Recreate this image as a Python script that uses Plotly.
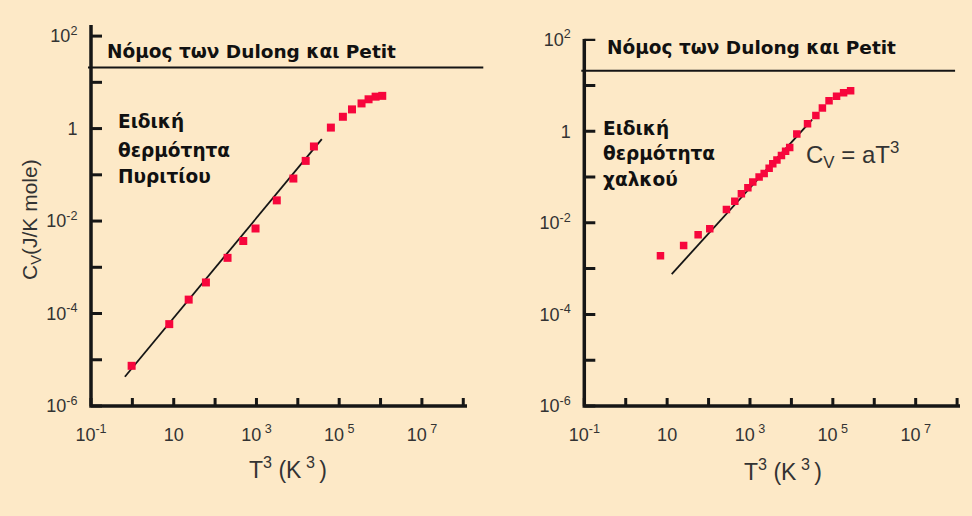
import plotly.graph_objects as go

# ---------------- data ----------------
# Left panel: silicon (Πυρίτιο)
si_T3 = [0.96, 7.8, 23, 60, 200, 480, 950, 3100, 7800, 15500, 24500,
         63000, 123000, 204000, 347000, 513000, 759000, 1100000]
si_Cv = [7.4e-6, 5.9e-5, 2.0e-4, 4.7e-4, 1.6e-3, 3.7e-3, 6.9e-3, 0.028, 0.083, 0.20, 0.41,
         1.05, 1.8, 2.6, 3.5, 4.3, 4.9, 5.1]
si_fit_T3 = [0.66, 38000]
si_fit_Cv = [4.3e-6, 0.59]

# Right panel: copper (χαλκός)
cu_T3 = [6.9, 25, 56, 107, 270, 430, 620, 890, 1170, 1660, 2200, 2900, 3550, 4470,
         5750, 7240, 9100, 13500, 24500, 39000, 56000, 81000, 123000, 182000, 269000]
cu_Cv = [1.9e-3, 3.2e-3, 5.5e-3, 7.4e-3, 0.0195, 0.0295, 0.043, 0.058, 0.078, 0.10, 0.12,
         0.155, 0.195, 0.235, 0.295, 0.363, 0.44, 0.87, 1.45, 2.2, 3.2, 4.6, 5.8, 6.9, 7.6]
cu_fit_T3 = [12.9, 31600]
cu_fit_Cv = [7.6e-4, 1.8]

dulong_petit = 21.0

x_tickvals = [1e-1, 1e0, 1e1, 1e2, 1e3, 1e4, 1e5, 1e6, 1e7, 1e8]
x_ticktext = ["10<sup>-1</sup>", "", "10", "", "10<sup> 3</sup>", "", "10<sup> 5</sup>", "",
              "10<sup> 7</sup>", ""]
y_tickvals = [1e-6, 1e-5, 1e-4, 1e-3, 1e-2, 1e-1, 1e0, 1e1, 1e2]
y_ticktext = ["10<sup>-6</sup>", "", "10<sup>-4</sup>", "", "10<sup>-2</sup>", "", "1", "",
              "10<sup>2</sup>"]

# ---------------- styling ----------------
W, H = 972, 516
BG = "#FDE9C7"
AX = "#161616"
RED = "#F7063C"
TICKFONT = dict(family="Liberation Sans, Arial, sans-serif", size=18, color="#333333")
BOLD = dict(family="DejaVu Sans, sans-serif", size=18.5, color="#111111", weight="bold")
REG = dict(family="Liberation Sans, Arial, sans-serif", size=20, color="#333333")

# panel geometry in pixels (axis corner at l/b, axis ends at r/t) and log ranges
PAD = 3  # px of room left of / below the axis lines inside the plotting area
PANELS = [
    dict(x="x", y="y", l=91, r=467, t=25, b=406, xr=[-1, 8.09], yr=[-6, 2.24], dp=1.043),
    dict(x="x2", y="y2", l=584.3, r=960, t=38.7, b=406, xr=[-1, 8.07], yr=[-6, 2.02], dp=0.987),
]
XTICK_LEN, YTICK_LEN = 8, 11


def px(x):
    return x / W


def py(y):
    return 1 - y / H


fig = go.Figure()

layout_axes = {}
for i, p in enumerate(PANELS):
    sfx = "" if i == 0 else str(i + 1)
    ppx = (p["r"] - p["l"]) / (p["xr"][1] - p["xr"][0])  # px per decade (x)
    ppy = (p["b"] - p["t"]) / (p["yr"][1] - p["yr"][0])  # px per decade (y)
    p["ppx"], p["ppy"] = ppx, ppy
    layout_axes["xaxis" + sfx] = dict(
        type="log", domain=[px(p["l"] - PAD), px(p["r"])],
        range=[p["xr"][0] - PAD / ppx, p["xr"][1]], anchor=p["y"],
        showline=False, ticks="outside", ticklen=9, tickcolor="rgba(0,0,0,0)",
        tickmode="array", tickvals=x_tickvals, ticktext=x_ticktext, tickfont=TICKFONT,
        showgrid=False, zeroline=False)
    layout_axes["yaxis" + sfx] = dict(
        type="log", domain=[py(p["b"] + PAD), py(p["t"])],
        range=[p["yr"][0] - PAD / ppy, p["yr"][1]], anchor=p["x"],
        showline=False, ticks="outside", ticklen=6, tickcolor="rgba(0,0,0,0)",
        tickmode="array", tickvals=y_tickvals, ticktext=y_ticktext, tickfont=TICKFONT,
        showgrid=False, zeroline=False)

# axis frame and inward ticks, placed at the axis tick values
for p in PANELS:
    x0, x1 = 10 ** p["xr"][0], 10 ** p["xr"][1]
    y0, y1 = 10 ** p["yr"][0], 10 ** p["yr"][1]
    fig.add_trace(go.Scatter(x=[x1, x0, x0], y=[y0, y0, y1], mode="lines",
                             line=dict(color=AX, width=3.5), xaxis=p["x"], yaxis=p["y"],
                             showlegend=False, hoverinfo="skip"))
    tx, ty = [], []
    for v in x_tickvals:
        tx += [v, v, None]
        ty += [y0, y0 * 10 ** (XTICK_LEN / p["ppy"]), None]
    for v in y_tickvals:
        tx += [x0, x0 * 10 ** (YTICK_LEN / p["ppx"]), None]
        ty += [v, v, None]
    fig.add_trace(go.Scatter(x=tx, y=ty, mode="lines", line=dict(color=AX, width=3),
                             xaxis=p["x"], yaxis=p["y"], showlegend=False,
                             hoverinfo="skip", connectgaps=False))

# left panel data
fig.add_trace(go.Scatter(x=si_fit_T3, y=si_fit_Cv, mode="lines",
                         line=dict(color="#151515", width=1.8),
                         xaxis="x", yaxis="y", showlegend=False, hoverinfo="skip"))
fig.add_trace(go.Scatter(x=si_T3, y=si_Cv, mode="markers",
                         marker=dict(symbol="square", size=8, color=RED, line=dict(width=0)),
                         xaxis="x", yaxis="y", showlegend=False))
# right panel data
fig.add_trace(go.Scatter(x=cu_fit_T3, y=cu_fit_Cv, mode="lines",
                         line=dict(color="#151515", width=1.8),
                         xaxis="x2", yaxis="y2", showlegend=False, hoverinfo="skip"))
fig.add_trace(go.Scatter(x=cu_T3, y=cu_Cv, mode="markers",
                         marker=dict(symbol="square", size=7.5, color=RED, line=dict(width=0)),
                         xaxis="x2", yaxis="y2", showlegend=False))

fig.update_layout(
    template="none",
    width=W, height=H,
    margin=dict(l=0, r=0, t=0, b=0, autoexpand=False),
    paper_bgcolor=BG, plot_bgcolor=BG,
    showlegend=False,
    **layout_axes,
)

# Dulong-Petit limit lines
for p in PANELS:
    fig.add_shape(type="line", xref=p["x"] + " domain", yref=p["y"], x0=0, x1=p["dp"],
                  y0=dulong_petit, y1=dulong_petit, line=dict(color="#151515", width=2))

ann = []


def txt(text, x, y, font, xanchor="left", yanchor="middle", angle=0):
    ann.append(dict(text=text, x=px(x), y=py(y), xref="paper", yref="paper",
                    xanchor=xanchor, yanchor=yanchor, showarrow=False, font=font,
                    textangle=angle, align="left"))


txt("Νόμος των Dulong και Petit", 105, 52, BOLD)
txt("Νόμος των Dulong και Petit", 605, 48, BOLD)
for t, y in zip(["Ειδική", "θερμότητα", "Πυριτίου"], [122, 150, 177]):
    txt(t, 116, y, BOLD)
for t, y in zip(["Ειδική", "θερμότητα", "χαλκού"], [128, 153, 180]):
    txt(t, 601, y, BOLD)
txt("C<sub>V</sub> = aT<sup>3</sup>", 804, 155, dict(REG, size=24))
txt("T<sup>3</sup> (K<sup> 3 </sup>)", 288, 468, dict(REG, size=23), xanchor="center")
txt("T<sup>3</sup> (K<sup> 3 </sup>)", 783, 470, dict(REG, size=23), xanchor="center")
txt("C<sub>V</sub>(J/K mole)", 31, 220, dict(REG, size=21), xanchor="center", angle=-90)

fig.update_layout(annotations=ann)

fig.write_html("out.html")
